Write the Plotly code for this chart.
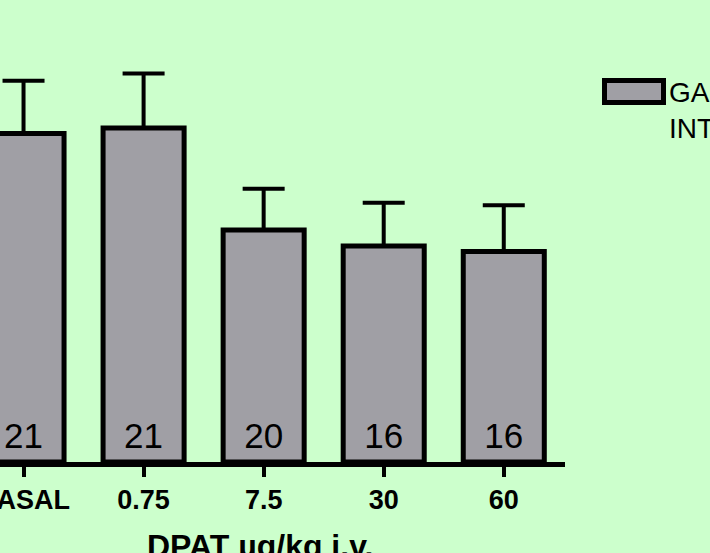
import plotly.graph_objects as go

categories = ["BASAL", "0.75", "7.5", "30", "60"]
means = [82.1, 83.5, 58.0, 54.0, 52.6]
sems = [13.2, 13.6, 10.3, 10.8, 11.6]
n_labels = ["21", "21", "20", "16", "16"]
legend_lines = ["GASTRIC", "INTAKE"]
x_title = "DPAT µg/kg i.v."

BG = "#CCFFCC"
BAR = "#A09FA5"
FONT = "Liberation Sans, Arial, sans-serif"

W, H = 710, 553
ML, MR, MT, MB = 0, 145, 2, 91
PW = W - ML - MR
PH = H - MT - MB

def px_x(p):
    return (p - ML) / PW

def px_y(p):
    return (H - MB - p) / PH

fig = go.Figure()
fig.add_trace(go.Bar(
    x=categories, y=means,
    marker=dict(color=BAR, line=dict(color="black", width=5)),
    error_y=dict(type="data", array=sems, arrayminus=[0] * len(sems),
                 symmetric=False, color="black", thickness=4, width=21),
    showlegend=False, hoverinfo="skip",
))
fig.add_trace(go.Scatter(
    x=categories, y=[5.8] * len(categories), mode="text", text=n_labels,
    textfont=dict(family=FONT, size=35, color="black"),
    showlegend=False, cliponaxis=False, hoverinfo="skip",
))

fig.update_layout(
    width=W, height=H,
    margin=dict(l=ML, r=MR, t=MT, b=MB, autoexpand=False),
    paper_bgcolor=BG, plot_bgcolor=BG,
    bargap=0.325,
    font=dict(family=FONT, color="black"),
    xaxis=dict(
        range=[-0.196, 4.51], showline=True, linecolor="black", linewidth=5,
        ticks="outside", ticklen=10, tickwidth=4, tickcolor="black",
        tickfont=dict(family=FONT, size=27, color="black", weight="bold"),
        showgrid=False, zeroline=False, fixedrange=True,
    ),
    yaxis=dict(range=[0, 115], visible=False, showgrid=False, zeroline=False),
    shapes=[dict(type="rect", xref="paper", yref="paper",
                 x0=px_x(604.5), x1=px_x(663.5), y0=px_y(102.5), y1=px_y(80.5),
                 line=dict(color="black", width=5), fillcolor=BAR)],
    annotations=[
        dict(text="<br>".join(legend_lines), xref="paper", yref="paper",
             x=px_x(667), y=px_y(75), xanchor="left", yanchor="top", align="left",
             showarrow=False, font=dict(family=FONT, size=28, color="black")),
        dict(text="<b>" + x_title + "</b>", xref="paper", yref="paper",
             x=px_x(260), y=px_y(526), xanchor="center", yanchor="top",
             showarrow=False, font=dict(family=FONT, size=32, color="black")),
    ],
)

fig.write_html("out.html")
